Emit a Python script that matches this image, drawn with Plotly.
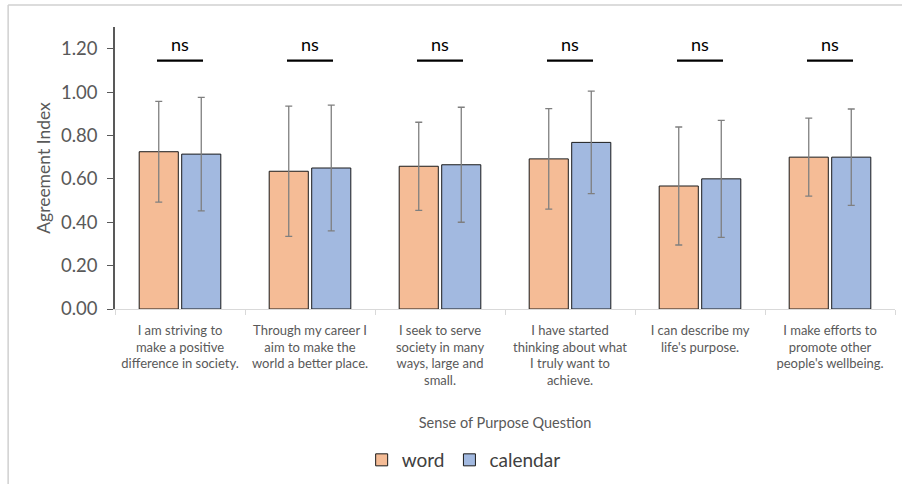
import plotly.graph_objects as go

# Survey items (x categories)
questions = [
    "I am striving to<br>make a positive<br>difference in society.",
    "Through my career I<br>aim to make the<br>world a better place.",
    "I seek to serve<br>society in many<br>ways, large and<br>small.",
    "I have started<br>thinking about what<br>I truly want to<br>achieve.",
    "I can describe my<br>life's purpose.",
    "I make efforts to<br>promote other<br>people's wellbeing.",
]

# Mean agreement index and standard deviation per condition
word_mean = [0.725, 0.635, 0.658, 0.692, 0.567, 0.700]
word_sd = [0.232, 0.300, 0.203, 0.232, 0.272, 0.180]
calendar_mean = [0.714, 0.650, 0.665, 0.768, 0.600, 0.700]
calendar_sd = [0.262, 0.290, 0.265, 0.236, 0.270, 0.222]

# Significance label shown above each pair
sig_labels = ["ns", "ns", "ns", "ns", "ns", "ns"]

FONT = "Lato"
GREY_TEXT = "#595959"

fig = go.Figure()
fig.add_trace(go.Bar(
    name="word", x=questions, y=word_mean,
    marker=dict(color="#F5BC96", line=dict(color="#1a1a1a", width=1)),
    error_y=dict(type="data", array=word_sd, visible=True,
                 color="#7F7F7F", thickness=1.3, width=3.5),
))
fig.add_trace(go.Bar(
    name="calendar", x=questions, y=calendar_mean,
    marker=dict(color="#A2B9E0", line=dict(color="#1a1a1a", width=1)),
    error_y=dict(type="data", array=calendar_sd, visible=True,
                 color="#7F7F7F", thickness=1.3, width=3.5),
))

# Significance bars and labels
for i, lab in enumerate(sig_labels):
    fig.add_shape(type="line", xref="x", yref="y",
                  x0=i - 0.177, x1=i + 0.177, y0=1.145, y1=1.145,
                  line=dict(color="black", width=2.2))
    fig.add_annotation(x=i, y=1.222, xref="x", yref="y", text=lab,
                       showarrow=False, font=dict(family=FONT, size=18, color="black"))

# Outer chart frame
fig.add_shape(type="line", xref="paper", yref="paper",
              x0=-0.137, x1=1.02, y0=1.078, y1=1.078,
              line=dict(color="#D0D0D0", width=1.5))
fig.add_shape(type="line", xref="paper", yref="paper",
              x0=-0.137, x1=-0.137, y0=1.078, y1=-0.63,
              line=dict(color="#D0D0D0", width=1.5))

fig.update_layout(
    width=902, height=484,
    margin=dict(l=115, r=7, t=27, b=174),
    paper_bgcolor="white", plot_bgcolor="white",
    barmode="group", bargap=0.346, bargroupgap=0.08,
    font=dict(family=FONT, color=GREY_TEXT),
    showlegend=True,
    legend=dict(orientation="h", x=0.447, xanchor="center", y=-0.53, yanchor="middle",
                font=dict(family=FONT, size=19, color="#404040"),
                itemwidth=30, traceorder="normal"),
)

fig.update_xaxes(
    type="category", tickson="boundaries",
    ticks="outside", ticklen=5, tickcolor="#D9D9D9",
    showline=True, linecolor="#D9D9D9", linewidth=1,
    showgrid=False,
    ticklabelstandoff=9,
    tickfont=dict(family=FONT, size=13, color=GREY_TEXT),
    title=dict(text="Sense of Purpose Question", standoff=30,
               font=dict(family=FONT, size=14.5, color=GREY_TEXT)),
)
fig.update_yaxes(
    range=[0, 1.3], dtick=0.2, tick0=0, tickformat=".2f",
    ticks="outside", ticklen=6, tickcolor="#595959",
    showline=True, linecolor="#595959", linewidth=1.5,
    showgrid=False, zeroline=False,
    ticklabelstandoff=6,
    tickfont=dict(family=FONT, size=18.5, color=GREY_TEXT),
    title=dict(text="Agreement Index", standoff=6,
               font=dict(family=FONT, size=17.5, color=GREY_TEXT)),
)

fig.write_html("out.html")
